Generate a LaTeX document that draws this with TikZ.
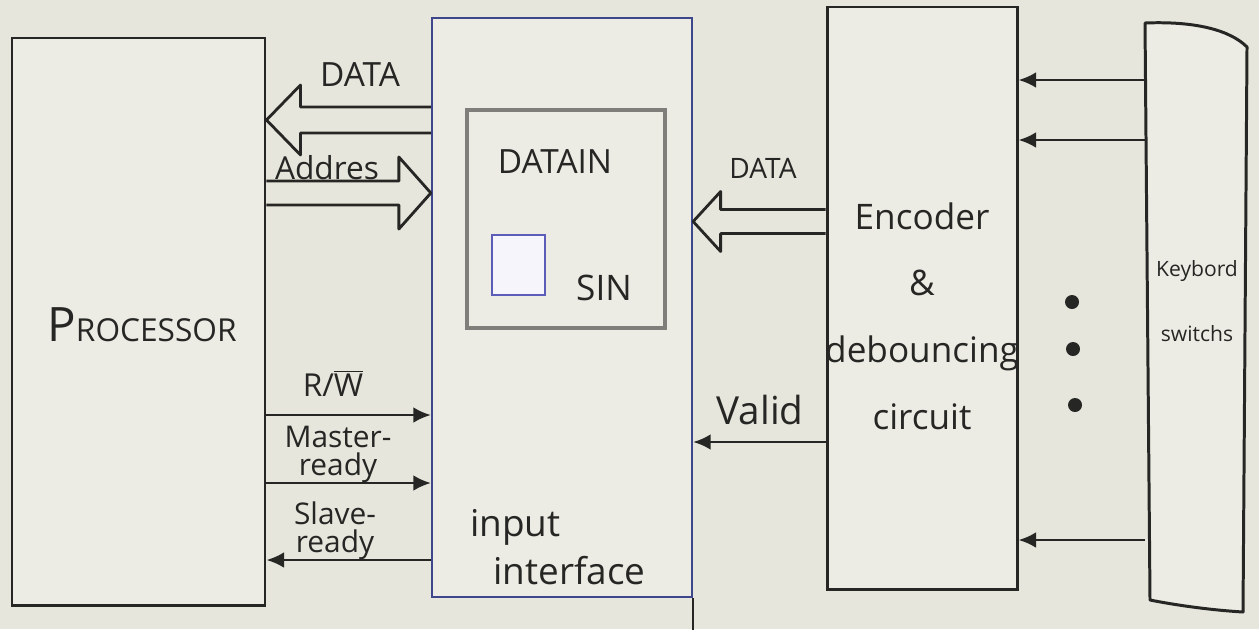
\documentclass[tikz,border=0pt]{standalone}
\usepackage{fontspec}
\setmainfont{Open Sans}
\usetikzlibrary{arrows.meta,calc}

\definecolor{paper}{RGB}{231,230,221}
\definecolor{boxfill}{RGB}{237,236,228}
\definecolor{ink}{RGB}{38,38,36}
\definecolor{ifblue}{RGB}{62,70,140}
\definecolor{boxgrey}{RGB}{128,126,122}
\definecolor{sinblue}{RGB}{92,92,185}

\begin{document}
\begin{tikzpicture}[x=1cm, y=1cm,
    blk/.style={draw=#1, fill=boxfill, line width=1.7pt, inner sep=0pt},
    lbl/.style={inner sep=0pt, align=center, text=ink, font=\fontsize{17}{16}\selectfont},
    sig/.style={draw=ink, line width=1.5pt, -{Latex[length=10pt,width=9pt]}},
    bus/.style={draw=ink, line width=1.6pt, line join=round}]
  \fill[paper] (0,0) rectangle (25.18,-12.58);
  \useasboundingbox (0,0) rectangle (25.18,-12.58);
  % ---- blocks --------------------------------------------------------------
  \node[blk=ink, minimum width=5.06cm, minimum height=11.34cm] (proc) at (2.77,-6.43) {};
  \node[blk=ifblue, line width=1.3pt, minimum width=5.2cm, minimum height=11.58cm] (iface) at (11.24,-6.15) {};
  \draw[ink, line width=1.3pt] (iface.south east) -- ++(0,-0.7);
  \node[blk=boxgrey, line width=2.2pt, minimum width=3.96cm, minimum height=4.36cm] (datain) at (11.32,-4.38) {};
  \node[blk=sinblue, fill=sinblue!6!white, line width=1.1pt, minimum width=1.06cm, minimum height=1.2cm] (sin) at (10.37,-5.30) {};
  \node[blk=ink, minimum width=3.8cm, minimum height=11.64cm] (enc) at (18.44,-5.96) {};
  % keyboard strip with bent top and bottom edges
  \draw[ink, line width=1.7pt, line join=round, fill=boxfill]
    (22.90,-0.46) .. controls (23.9,-0.42) and (24.6,-0.6) .. (24.94,-0.94)
    -- (24.86,-12.24) .. controls (24.2,-12.2) and (23.5,-12.1) .. (23.0,-12.0) -- cycle;
  \node[minimum width=2.02cm, minimum height=11.66cm, inner sep=0pt] (kbd) at (23.91,-6.29) {};
  % ---- block texts ---------------------------------------------------------
  \node[lbl, font=\fontsize{18}{20}\selectfont] (proclbl) at (2.84,-6.5) {{\fontsize{27}{30}\selectfont P}ROCESSOR};
  \node[lbl, font=\fontsize{19}{20}\selectfont] (dinlbl) at (11.1,-3.24) {DATAIN};
  \node[lbl, font=\fontsize{20}{22}\selectfont] (sinlbl) at (12.08,-5.76) {SIN};
  \node[lbl, font=\fontsize{21}{27}\selectfont, align=left, anchor=west] (iflbl) at (9.4,-10.94)
    {input\\\hspace*{0.46cm}interface};
  \node[lbl, font=\fontsize{20}{38}\selectfont] (enclbl) at (18.44,-6.32) {Encoder\\\&\\debouncing\\circuit};
  \node[lbl, font=\fontsize{12}{37}\selectfont] (kbdlbl) at (23.94,-6.02) {Keybord\\switchs};
  \foreach \x/\y in {21.44/-6.04, 21.46/-6.98, 21.5/-8.1}
    \fill[ink] (\x,\y) circle (0.14);
  % ---- buses ---------------------------------------------------------------
  \foreach \a/\b/\y/\l/\s/\h [count=\i] in {proc.east/iface.west/-2.4/0.68/0.26/0.7,
      iface.west/proc.east/-3.86/-0.64/0.24/0.72, iface.east/enc.west/-4.43/0.55/0.24/0.6} {
    \coordinate (tip\i) at (\a |- 0,\y);
    \coordinate (tail\i) at (\b |- 0,\y);
    \draw[bus] ($(tail\i)+(0,\s)$) -- ($(tip\i)+(\l,\s)$) -- ($(tip\i)+(\l,\h)$) -- (tip\i)
      -- ($(tip\i)+(\l,-\h)$) -- ($(tip\i)+(\l,-\s)$) -- ($(tail\i)+(0,-\s)$);}
  \node[lbl, font=\fontsize{19}{20}\selectfont] (datalbl) at (7.2,-1.5) {DATA};
  \node[lbl, font=\fontsize{18}{20}\selectfont] (addrlbl) at (6.54,-3.36) {Addres};
  \node[lbl, font=\fontsize{16}{18}\selectfont] (kdatalbl) at (15.26,-3.36) {DATA};
  % ---- control lines -------------------------------------------------------
  \draw[sig] (proc.east |- 0,-8.3) -- (iface.west |- 0,-8.3);
  \draw[sig] (proc.east |- 0,-9.66) -- (iface.west |- 0,-9.66);
  \draw[sig] (iface.west |- 0,-11.2) -- (proc.east |- 0,-11.2);
  \draw[sig] (enc.west |- 0,-8.84) -- (iface.east |- 0,-8.84);
  \foreach \y in {-1.6, -2.8, -10.8}
    \draw[sig] (kbd.west |- 0,\y) -- (enc.east |- 0,\y);
  \node[lbl, font=\fontsize{18}{20}\selectfont] (rwlbl) at (6.66,-7.66) {R/$\overline{\mbox{W}}$};
  \node[lbl] (mrlbl) at (6.76,-9.08) {Master-\\ready};
  \node[lbl] (srlbl) at (6.7,-10.62) {Slave-\\ready};
  \node[lbl, font=\fontsize{22}{24}\selectfont] (validlbl) at (15.2,-8.2) {Valid};
\end{tikzpicture}
\end{document}
